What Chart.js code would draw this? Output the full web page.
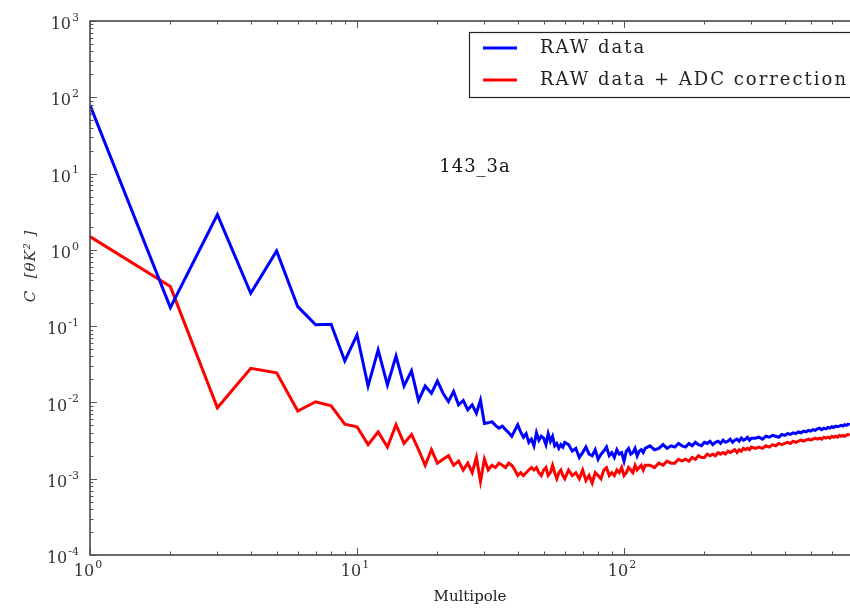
<!DOCTYPE html>
<html>
<head>
<meta charset="utf-8">
<script src="https://cdn.jsdelivr.net/npm/chart.js@4"></script>
<style>
html, body { margin: 0; padding: 0; background: #fff; }
canvas { display: block; }
</style>
</head>
<body>
<canvas id="grafico" width="850" height="609"></canvas>
<script>
/* ============================= */
/* DATOS   */
/* ============================= */

// multipolos l = 1..60
const ellLow = [1,2,3,4,5,6,7,8,9,10,11,12,13,14,15,16,17,18,19,20,
21,22,23,24,25,26,27,28,29,30,31,32,33,34,35,36,37,38,39,40,
41,42,43,44,45,46,47,48,49,50,51,52,53,54,55,56,57,58,59,60];

const rawLow = [79,0.175,2.9,0.27,0.97,0.18,0.104,0.106,0.035,0.077,
0.0164,0.0488,0.0169,0.0406,0.0164,0.0259,0.0106,0.0164,0.0132,0.0191,
0.0132,0.0103,0.0139,0.0093,0.0106,0.0080,0.0093,0.0072,0.0107,0.0053,
0.0054,0.0056,0.0050,0.0046,0.0049,0.0044,0.0040,0.0036,0.0043,0.0051,
0.0041,0.0035,0.0039,0.0030,0.0033,0.0027,0.0040,0.0032,0.0036,0.0034,
0.0028,0.0039,0.0031,0.0036,0.0027,0.0029,0.0025,0.0028,0.0026,0.0030];

const adcLow = [1.49,0.33,0.0085,0.028,0.0245,0.0077,0.0102,0.0090,0.0052,0.0048,
0.0028,0.0041,0.0026,0.0051,0.0029,0.0038,0.0024,0.0015,0.0024,0.0016,
0.0018,0.0020,0.0015,0.0017,0.0013,0.0016,0.0012,0.0019,0.00092,0.0018,
0.0013,0.0015,0.0014,0.0016,0.0015,0.0014,0.0016,0.0015,0.0013,0.0011,
0.0012,0.0011,0.0012,0.0013,0.0014,0.0013,0.0014,0.0012,0.0011,0.0013,
0.0014,0.0011,0.0012,0.0015,0.0012,0.0010,0.0012,0.0013,0.0011,0.0010];

// l = 62..120 (cada 2)
const ellMid = [62,64,66,68,70,72,74,76,78,80,82,84,86,88,90,
92,94,96,98,100,102,104,106,108,110,112,114,116,118,120];

const rawMid = [0.0028,0.0023,0.0025,0.0019,0.0022,0.0026,0.0021,0.0020,0.0024,0.0018,
0.0021,0.0023,0.0026,0.0020,0.0022,0.0019,0.0024,0.0021,0.0022,0.0017,
0.0023,0.0025,0.0021,0.0022,0.0025,0.0020,0.0023,0.0024,0.0022,0.0025];

const adcMid = [0.0013,0.0011,0.0012,0.0010,0.0013,0.00095,0.0011,0.00088,0.0012,0.0011,
0.0010,0.0013,0.0014,0.0011,0.0012,0.0011,0.0013,0.0012,0.0014,0.0011,
0.0012,0.0014,0.0013,0.0012,0.0015,0.0013,0.0014,0.0015,0.0013,0.0015];

// l = 125..300 (cada 5)
const ellHigh = [125,130,135,140,145,150,155,160,165,170,175,180,
185,190,195,200,205,210,215,220,225,230,235,240,
245,250,255,260,265,270,275,280,285,290,295,300];

const rawHigh = [0.0027,0.0024,0.0025,0.0028,0.0025,0.0027,0.0026,0.0029,0.0027,0.0026,0.0029,0.0027,
0.0030,0.0028,0.0027,0.0030,0.0029,0.0031,0.0028,0.0030,0.0031,0.0029,0.0032,0.0030,
0.0031,0.0033,0.0030,0.0032,0.0033,0.0031,0.0034,0.0032,0.0033,0.0035,0.0032,0.0034];

const adcHigh = [0.0015,0.0014,0.0016,0.0015,0.0017,0.0016,0.0016,0.0018,0.0017,0.0018,0.0017,0.0019,
0.0018,0.0020,0.0019,0.0019,0.0021,0.0020,0.0021,0.0020,0.0022,0.0021,0.0022,0.0021,
0.0023,0.0022,0.0023,0.0024,0.0022,0.0024,0.0023,0.0025,0.0024,0.0025,0.0024,0.0026];

// l = 310..700 (cada 10)
const ellTail = [310,320,330,340,350,360,370,380,390,400,
410,420,430,440,450,460,470,480,490,500,
510,520,530,540,550,560,570,580,590,600,
610,620,630,640,650,660,670,680,690,700];

const rawTail = [0.0034,0.0035,0.0033,0.0036,0.0035,0.0037,0.0036,0.0035,0.0038,0.0037,
0.0039,0.0038,0.0040,0.0039,0.0041,0.0040,0.0042,0.0041,0.0043,0.0042,
0.0044,0.0043,0.0045,0.0046,0.0044,0.0046,0.0045,0.0047,0.0046,0.0048,
0.0047,0.0049,0.0048,0.0049,0.0050,0.0049,0.0051,0.0050,0.0052,0.0051];

const adcTail = [0.0025,0.0026,0.0025,0.0027,0.0026,0.0028,0.0027,0.0029,0.0028,0.0029,
0.0030,0.0029,0.0031,0.0030,0.0031,0.0032,0.0031,0.0032,0.0033,0.0032,
0.0033,0.0034,0.0033,0.0034,0.0033,0.0035,0.0034,0.0035,0.0034,0.0036,
0.0035,0.0036,0.0035,0.0037,0.0036,0.0037,0.0036,0.0037,0.0038,0.0037];

const etiquetas = ["RAW data", "RAW data + ADC correction"];
const decadasX = [0, 1, 2];
const decadasY = [-4, -3, -2, -1, 0, 1, 2, 3];
const rotulo = "143_3a";

/* ============================= */
/* ARMAR SERIES                  */
/* ============================= */

const multipolos = [...ellLow, ...ellMid, ...ellHigh, ...ellTail];
const datosRaw = [...rawLow, ...rawMid, ...rawHigh, ...rawTail];
const datosAdc = [...adcLow, ...adcMid, ...adcHigh, ...adcTail];

function puntos(valores){
return multipolos.map((l, i) => ({x: l, y: valores[i]}));
}

const FUENTE = "DejaVu Serif";

/* ============================= */
/* MARCO, TICKS, TEXTOS, LEYENDA */
/* ============================= */

function potencia(ctx, exp, x, y, align){
ctx.font = "16px " + FUENTE;
const w10 = ctx.measureText("10").width;
ctx.font = "11px " + FUENTE;
const we = ctx.measureText(String(exp)).width;
let x0 = align === "right" ? x - w10 - we - 1 : x - (w10 + we + 1) / 2;
ctx.textAlign = "left";
ctx.textBaseline = "middle";
ctx.font = "16px " + FUENTE;
ctx.fillText("10", x0, y + 4);
ctx.font = "11px " + FUENTE;
ctx.fillText(String(exp), x0 + w10 + 1, y - 3);
}

const decoracion = {
id: "decoracion",
afterDraw(chart){
const {ctx, chartArea: a, scales: {x, y}} = chart;
ctx.save();

/* marco */
ctx.strokeStyle = "#3a3a3a";
ctx.lineWidth = 1.5;
ctx.beginPath();
ctx.moveTo(a.right + 5, a.top);
ctx.lineTo(a.left, a.top);
ctx.lineTo(a.left, a.bottom);
ctx.lineTo(a.right + 5, a.bottom);
ctx.stroke();

/* ticks hacia adentro */
ctx.lineWidth = 1;
ctx.strokeStyle = "#555";
ctx.beginPath();
decadasY.forEach(d => {
for(let m = 1; m <= 9; m++){
const v = m * Math.pow(10, d);
if(v > y.max * 1.0001) break;
const py = Math.round(y.getPixelForValue(v)) + 0.5;
const len = m === 1 ? 7 : 3.5;
ctx.moveTo(a.left, py);
ctx.lineTo(a.left + len, py);
}
});
decadasX.forEach(d => {
for(let m = 1; m <= 9; m++){
const v = m * Math.pow(10, d);
if(v > x.max) break;
const px = Math.round(x.getPixelForValue(v)) + 0.5;
const len = m === 1 ? 7 : 3.5;
ctx.moveTo(px, a.bottom);
ctx.lineTo(px, a.bottom - len);
ctx.moveTo(px, a.top);
ctx.lineTo(px, a.top + len);
}
});
ctx.stroke();

/* etiquetas de ejes */
ctx.fillStyle = "#333";
decadasY.forEach(d => {
potencia(ctx, String(d), a.left - 11, y.getPixelForValue(Math.pow(10, d)), "right");
});
decadasX.forEach(d => {
potencia(ctx, String(d), x.getPixelForValue(Math.pow(10, d)) - 2, a.bottom + 13, "center");
});

/* titulo eje y */
ctx.save();
ctx.translate(31, 266);
ctx.rotate(-Math.PI / 2);
ctx.textAlign = "center";
ctx.textBaseline = "middle";
ctx.font = "italic 15px " + FUENTE;
ctx.letterSpacing = "1px";
ctx.fillText("C  [\u03B8K\u00B2 ]", 0, 0);
ctx.restore();

/* rotulo */
ctx.fillStyle = "#111";
ctx.font = "18px " + FUENTE;
ctx.letterSpacing = "1px";
ctx.textAlign = "center";
ctx.textBaseline = "middle";
ctx.fillText(rotulo, 475, 167);

/* leyenda */
ctx.strokeStyle = "#222";
ctx.lineWidth = 1.2;
ctx.strokeRect(469.5, 32.5, 430, 65);
ctx.font = "18px " + FUENTE;
ctx.letterSpacing = "2px";
ctx.textAlign = "left";
chart.data.datasets.forEach((ds, i) => {
const ly = 48 + i * 32;
ctx.strokeStyle = ds.borderColor;
ctx.lineWidth = 3;
ctx.beginPath();
ctx.moveTo(483, ly);
ctx.lineTo(517, ly);
ctx.stroke();
ctx.fillStyle = "#222";
ctx.fillText(ds.label, 540, ly);
});

ctx.restore();
}
};

/* ============================= */
/* GRAFICO                       */
/* ============================= */

new Chart(document.getElementById("grafico"), {

type: "scatter",

data: {
datasets: [
{
label: etiquetas[0],
data: puntos(datosRaw),
borderColor: "#0000ff",
borderWidth: 3,
showLine: true,
pointRadius: 0,
tension: 0
},
{
label: etiquetas[1],
data: puntos(datosAdc),
borderColor: "#ff0000",
borderWidth: 3,
showLine: true,
pointRadius: 0,
tension: 0
}
]
},

options: {
responsive: false,
animation: false,
layout: { padding: { top: 21, right: 0, bottom: 0, left: 0 } },
plugins: {
legend: { display: false },
tooltip: { enabled: false }
},
scales: {
x: {
type: "logarithmic",
min: 1,
max: 702,
ticks: { display: false },
grid: { display: false },
border: { display: false },
title: {
display: true,
text: "Multipole",
color: "#222",
font: { family: FUENTE, size: 15 },
padding: { top: 0, bottom: 3 }
},
afterFit: s => { s.height = 54; }
},
y: {
type: "logarithmic",
min: 1e-4,
max: 1e3,
ticks: { display: false },
grid: { display: false },
border: { display: false },
afterFit: s => { s.width = 90; }
}
}
},

plugins: [decoracion]

});
</script>
</body>
</html>
